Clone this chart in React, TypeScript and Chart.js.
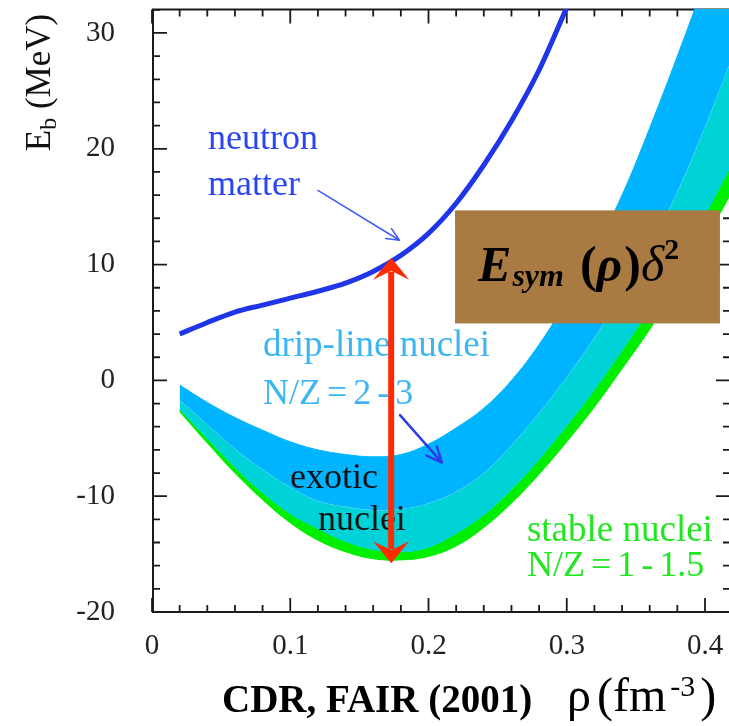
import { useEffect, useRef } from 'react';
import { Chart, registerables } from 'chart.js';

Chart.register(...registerables);

// ---- data ----
const rho = [0.02, 0.04, 0.06, 0.08, 0.10, 0.12, 0.14, 0.16, 0.18, 0.20, 0.22, 0.24, 0.26, 0.28, 0.30, 0.32, 0.34, 0.36, 0.38, 0.40, 0.42];
const dripUpper = [-0.4, -1.9, -3.2, -4.3, -5.3, -6.0, -6.4, -6.6, -6.4, -5.5, -4.1, -2.4, 0.0, 3.1, 6.9, 11.2, 16.0, 21.8, 28.0, 34.5, 41.2];
const dripLower = [-1.7, -3.8, -5.9, -7.7, -9.2, -10.4, -10.9, -11.2, -11.1, -10.6, -9.6, -8.0, -5.6, -2.8, 0.3, 3.7, 7.5, 11.6, 16.3, 21.9, 28.0];
const stableUpper = [-2.5, -5.0, -7.5, -9.7, -11.5, -12.8, -13.9, -14.6, -14.8, -14.4, -13.2, -11.6, -9.4, -6.8, -3.9, -0.8, 2.6, 6.2, 10.1, 14.3, 18.8];
const stableLower = [-2.7, -5.4, -8.0, -10.3, -12.3, -13.8, -14.8, -15.4, -15.5, -15.2, -14.3, -12.7, -10.6, -8.1, -5.3, -2.3, 1.0, 4.4, 8.1, 12.1, 16.4];

const neutronRho = [0.02, 0.04, 0.06, 0.08, 0.10, 0.12, 0.14, 0.16, 0.18, 0.20, 0.22, 0.24, 0.26, 0.28, 0.30];
const neutronE = [4.0, 5.0, 5.9, 6.5, 7.1, 7.7, 8.4, 9.4, 10.8, 12.7, 15.3, 18.6, 22.4, 26.8, 32.2];

const xTickValues = [0, 0.1, 0.2, 0.3, 0.4];
const xTickLabels = ['0', '0.1', '0.2', '0.3', '0.4'];
const yTickValues = [-20, -10, 0, 10, 20, 30];
const yTickLabels = ['-20', '-10', '0', '10', '20', '30'];

const X_MIN = 0;
const X_MAX = 0.4188;
const Y_MIN = -20;
const Y_MAX = 32.07;

// annotations (data coordinates)
const textNotes = [
  { text: 'neutron', x: 0.0405, y: 20.0, color: '#2a45f5', size: 36, spacing: 0 },
  { text: 'matter', x: 0.0405, y: 16.0, color: '#2a45f5', size: 36, spacing: 0 },
  { text: 'drip-line nuclei', x: 0.0803, y: 2.1, color: '#3cb6f2', size: 37, spacing: 0 },
  { text: 'N/Z = 2 - 3', x: 0.0803, y: -2.0, color: '#3cb6f2', size: 36, spacing: -3 },
  { text: 'exotic', x: 0.0998, y: -9.3, color: '#111111', size: 36, spacing: 0 },
  { text: 'nuclei', x: 0.12, y: -12.95, color: '#111111', size: 36, spacing: 0 },
  { text: 'stable nuclei', x: 0.2712, y: -13.9, color: '#22e622', size: 37, spacing: 0 },
  { text: 'N/Z = 1 - 1.5', x: 0.2712, y: -16.9, color: '#22e622', size: 36, spacing: -3 },
];

const pointerArrows = [
  { x0: 0.120, y0: 16.4, x1: 0.179, y1: 12.1, color: '#3d5cff', width: 1.5, head: 14 },
  { x0: 0.1794, y0: -3.0, x1: 0.2097, y1: -7.1, color: '#2a40e6', width: 2.5, head: 17 },
];

const redArrow = { x: 0.173, yTop: 10.6, yBottom: -15.8 };
const esymBox = { x0: 0.2192, x1: 0.4108, y0: 14.68, y1: 4.92 };

const FONT = '"Liberation Serif", "DejaVu Serif", serif';

function drawFrame(chart: any) {
  const { ctx, chartArea } = chart;
  const { left, right, top, bottom } = chartArea;
  const sx = chart.scales.x;
  const sy = chart.scales.y;
  ctx.save();
  ctx.strokeStyle = '#1a1a1a';
  ctx.lineWidth = 2;
  ctx.lineCap = 'butt';
  ctx.beginPath();
  ctx.moveTo(left + 1, top - 0.5);
  ctx.lineTo(left + 1, bottom + 1);
  ctx.moveTo(left, bottom);
  ctx.lineTo(right, bottom);
  ctx.moveTo(left, top + 0.5);
  ctx.lineTo(right, top + 0.5);
  ctx.moveTo(right - 1, top);
  ctx.lineTo(right - 1, bottom);
  ctx.stroke();

  ctx.lineWidth = 1.8;
  ctx.beginPath();
  for (let i = 0; i <= 26; i++) {
    const v = -20 + i * 2;
    if (v > Y_MAX) break;
    const p = sy.getPixelForValue(v);
    const len = v % 10 === 0 ? 14 : 7;
    ctx.moveTo(left + 1, p);
    ctx.lineTo(left + 1 + len, p);
    ctx.moveTo(right - 1, p);
    ctx.lineTo(right - 1 - len, p);
  }
  for (let i = 0; i <= 21; i++) {
    const v = i * 0.02;
    if (v > X_MAX) break;
    const p = sx.getPixelForValue(v);
    const len = i % 5 === 0 ? 14 : 7;
    ctx.moveTo(p, bottom);
    ctx.lineTo(p, bottom - len);
    ctx.moveTo(p, top + 0.5);
    ctx.lineTo(p, top + 0.5 + len);
  }
  ctx.stroke();
  ctx.restore();
}

function openArrow(ctx: any, x0: number, y0: number, x1: number, y1: number, head: number) {
  const ang = Math.atan2(y1 - y0, x1 - x0);
  ctx.beginPath();
  ctx.moveTo(x0, y0);
  ctx.lineTo(x1, y1);
  const a = 0.42;
  ctx.moveTo(x1 - head * Math.cos(ang - a), y1 - head * Math.sin(ang - a));
  ctx.lineTo(x1, y1);
  ctx.lineTo(x1 - head * Math.cos(ang + a), y1 - head * Math.sin(ang + a));
  ctx.stroke();
}

function stealthHead(ctx: any, x: number, tipY: number, dir: number) {
  const half = 18;
  const len = 22;
  const notch = 9;
  ctx.beginPath();
  ctx.moveTo(x, tipY);
  ctx.lineTo(x - half, tipY - dir * len);
  ctx.lineTo(x, tipY - dir * (len - notch));
  ctx.lineTo(x + half, tipY - dir * len);
  ctx.closePath();
  ctx.fill();
}

function drawAnnotations(chart: any) {
  const { ctx } = chart;
  const sx = chart.scales.x;
  const sy = chart.scales.y;
  const px = (v: number) => sx.getPixelForValue(v);
  const py = (v: number) => sy.getPixelForValue(v);
  ctx.save();

  ctx.textBaseline = 'alphabetic';
  ctx.textAlign = 'left';
  for (const t of textNotes) {
    ctx.font = `${t.size}px ${FONT}`;
    ctx.fillStyle = t.color;
    (ctx as any).wordSpacing = `${t.spacing}px`;
    ctx.fillText(t.text, px(t.x), py(t.y));
  }
  (ctx as any).wordSpacing = '0px';

  ctx.lineCap = 'round';
  ctx.lineJoin = 'round';
  for (const a of pointerArrows) {
    ctx.strokeStyle = a.color;
    ctx.lineWidth = a.width;
    openArrow(ctx, px(a.x0), py(a.y0), px(a.x1), py(a.y1), a.head);
  }

  const rx = px(redArrow.x);
  const rTop = py(redArrow.yTop);
  const rBot = py(redArrow.yBottom);
  ctx.fillStyle = '#ff2a00';
  ctx.strokeStyle = '#ff2a00';
  ctx.lineWidth = 6;
  ctx.lineCap = 'butt';
  ctx.beginPath();
  ctx.moveTo(rx, rTop + 14);
  ctx.lineTo(rx, rBot - 14);
  ctx.stroke();
  stealthHead(ctx, rx, rTop, -1);
  stealthHead(ctx, rx, rBot, 1);

  const bx0 = px(esymBox.x0);
  const bx1 = px(esymBox.x1);
  const by0 = py(esymBox.y0);
  const by1 = py(esymBox.y1);
  ctx.fillStyle = '#a97a42';
  ctx.fillRect(bx0, by0, bx1 - bx0, by1 - by0);
  ctx.fillStyle = '#000000';
  let cx = bx0 + 23;
  const base = by0 + 71;
  ctx.font = `italic bold 50px ${FONT}`;
  ctx.fillText('E', cx, base);
  cx += ctx.measureText('E').width + 1;
  ctx.font = `italic bold 32px ${FONT}`;
  ctx.fillText('sym', cx, base + 5);
  cx += ctx.measureText('sym').width + 16;
  ctx.font = `bold 50px ${FONT}`;
  ctx.fillText('(', cx, base);
  cx += ctx.measureText('(').width;
  ctx.font = `italic bold 50px ${FONT}`;
  ctx.fillText('ρ', cx, base);
  cx += ctx.measureText('ρ').width + 2;
  ctx.font = `bold 50px ${FONT}`;
  ctx.fillText(')', cx, base);
  cx += ctx.measureText(')').width;
  ctx.font = `italic 50px ${FONT}`;
  ctx.fillText('δ', cx, base);
  cx += ctx.measureText('δ').width;
  ctx.font = `bold 30px ${FONT}`;
  ctx.fillText('2', cx, base - 22);

  ctx.save();
  ctx.translate(50, 82.5);
  ctx.rotate(-Math.PI / 2);
  ctx.fillStyle = '#111111';
  ctx.font = `35px ${FONT}`;
  const wE = ctx.measureText('E').width;
  const wRest = ctx.measureText(' (MeV)').width;
  ctx.font = `24px ${FONT}`;
  const wb = ctx.measureText('b').width;
  let u = -(wE + wb + wRest) / 2;
  ctx.font = `35px ${FONT}`;
  ctx.fillText('E', u, 0);
  u += wE;
  ctx.font = `24px ${FONT}`;
  ctx.fillText('b', u, 6);
  u += wb;
  ctx.font = `35px ${FONT}`;
  ctx.fillText(' (MeV)', u, 0);
  ctx.restore();

  ctx.fillStyle = '#000000';
  ctx.font = `bold 39px ${FONT}`;
  ctx.fillText('CDR, FAIR (2001)', 222, 712);
  let qx = 567;
  ctx.font = `48px ${FONT}`;
  ctx.fillText('ρ', qx, 711);
  qx += ctx.measureText('ρ').width + 6;
  ctx.fillText('(fm', qx, 711);
  qx += ctx.measureText('(fm').width + 4;
  ctx.font = `30px ${FONT}`;
  ctx.fillText('-3', qx, 696);
  qx += ctx.measureText('-3').width + 5;
  ctx.font = `48px ${FONT}`;
  ctx.fillText(')', qx, 711);

  ctx.restore();
}

const overlayPlugin = {
  id: 'overlay',
  beforeDatasetsDraw(chart: any) {
    drawFrame(chart);
  },
  afterDatasetsDraw(chart: any) {
    drawAnnotations(chart);
  },
};

const bandClip = { left: 0, top: 1, right: 2, bottom: 0 };

export default function App() {
  const ref = useRef<HTMLCanvasElement>(null);
  useEffect(() => {
    if (!ref.current) return;
    let chart: any = null;
    let cancelled = false;
    const build = () => {
      if (cancelled || !ref.current) return;
      Chart.defaults.font.family = FONT;
      const pts = (xs: number[], ys: number[]) => xs.map((x, i) => ({ x, y: ys[i] }));
      chart = new Chart(ref.current, {
        type: 'line',
        data: {
          datasets: [
            {
              label: 'neutron matter',
              data: pts(neutronRho, neutronE),
              borderColor: '#1f35e8',
              borderWidth: 5,
              pointRadius: 0,
              fill: false,
              cubicInterpolationMode: 'monotone',
              clip: { left: 0, top: 0, right: 0, bottom: 0 },
            },
            {
              label: 'drip-line upper',
              data: pts(rho, dripUpper),
              borderColor: '#00b4ff',
              borderWidth: 1,
              backgroundColor: '#00b4ff',
              pointRadius: 0,
              fill: '+1',
              tension: 0.4,
              clip: bandClip,
            },
            {
              label: 'drip-line lower',
              data: pts(rho, dripLower),
              borderColor: 'rgba(150,215,255,0.9)',
              borderWidth: 1,
              borderDash: [2, 2],
              backgroundColor: '#00d3d8',
              pointRadius: 0,
              fill: '+1',
              tension: 0.4,
              clip: bandClip,
            },
            {
              label: 'stable upper',
              data: pts(rho, stableUpper),
              borderColor: '#00d3d8',
              borderWidth: 1,
              backgroundColor: '#00ee00',
              pointRadius: 0,
              fill: '+1',
              tension: 0.4,
              clip: bandClip,
            },
            {
              label: 'stable lower',
              data: pts(rho, stableLower),
              borderColor: '#00ee00',
              borderWidth: 1,
              pointRadius: 0,
              fill: false,
              tension: 0.4,
              clip: bandClip,
            },
          ],
        },
        options: {
          animation: false,
          responsive: false,
          maintainAspectRatio: false,
          layout: { padding: { top: 9, right: 3, left: 0, bottom: 0 } },
          plugins: { legend: { display: false }, tooltip: { enabled: false } },
          scales: {
            x: {
              type: 'linear',
              min: X_MIN,
              max: X_MAX,
              grid: { display: false, drawTicks: false },
              border: { display: false },
              ticks: {
                autoSkip: false,
                maxRotation: 0,
                padding: 17,
                color: '#222222',
                font: { family: FONT, size: 29 },
                callback: (_v: any, i: number) => xTickLabels[i],
              },
              afterBuildTicks: (s: any) => {
                s.ticks = xTickValues.map((v) => ({ value: v }));
              },
              afterFit: (s: any) => {
                s.height = 114;
                s.paddingLeft = 0;
                s.paddingRight = 0;
              },
            },
            y: {
              type: 'linear',
              min: Y_MIN,
              max: Y_MAX,
              grid: { display: false, drawTicks: false },
              border: { display: false },
              ticks: {
                autoSkip: false,
                padding: 37,
                color: '#222222',
                font: { family: FONT, size: 29 },
                callback: (_v: any, i: number) => yTickLabels[i],
              },
              afterBuildTicks: (s: any) => {
                s.ticks = yTickValues.map((v) => ({ value: v }));
              },
              afterFit: (s: any) => {
                s.width = 152;
                s.paddingTop = 0;
                s.paddingBottom = 0;
              },
            },
          },
        },
        plugins: [overlayPlugin],
      } as any);
    };
    const fonts: any = (document as any).fonts;
    if (fonts && fonts.load) {
      Promise.all([
        fonts.load(`36px "Liberation Serif"`),
        fonts.load(`bold 36px "Liberation Serif"`),
        fonts.load(`italic 36px "Liberation Serif"`),
        fonts.load(`italic bold 36px "Liberation Serif"`),
      ]).then(build, build);
    } else {
      build();
    }
    return () => {
      cancelled = true;
      if (chart) chart.destroy();
    };
  }, []);

  return (
    <div style={{ position: 'fixed', left: 0, top: 0, width: 729, height: 726, overflow: 'hidden', background: '#ffffff' }}>
      <canvas ref={ref} width={734} height={726} style={{ display: 'block', width: 734, height: 726 }} />
    </div>
  );
}
